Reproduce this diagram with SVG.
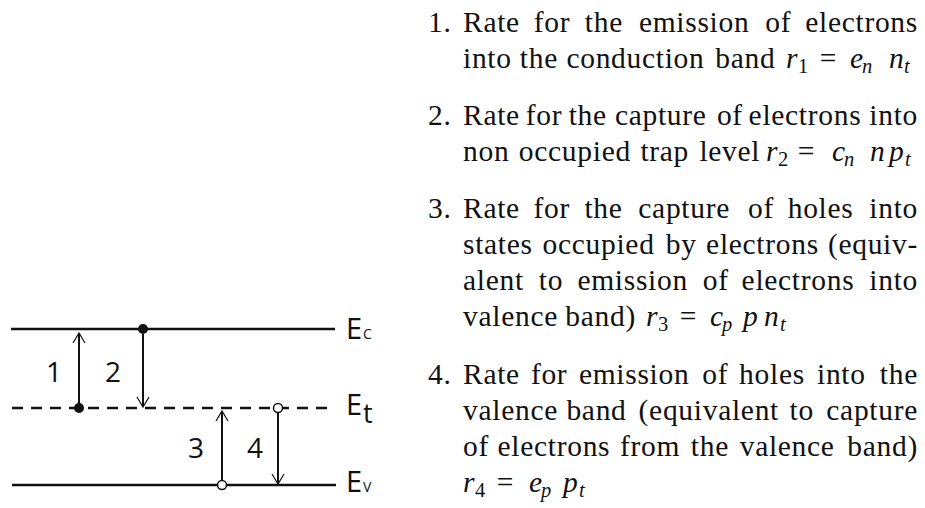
<svg xmlns="http://www.w3.org/2000/svg" width="925" height="508" viewBox="0 0 925 508">
<style>
.band{stroke:#111;stroke-width:2.6;fill:none}
.dash{stroke:#111;stroke-width:2.6;fill:none;stroke-dasharray:11 8}
.arr{stroke:#111;stroke-width:2;fill:none}
.head{stroke:#111;stroke-width:1.2;fill:none}
.lab{font-family:"Open Sans","Noto Sans",sans-serif;font-size:28px;fill:#111;text-anchor:middle}
.E{font-family:"Open Sans","Noto Sans",sans-serif;font-size:29px;fill:#111}
.Es{font-family:"Open Sans","Noto Sans",sans-serif;font-size:14px;fill:#111}
.Et{font-family:"Open Sans","Noto Sans",sans-serif;font-size:27px;fill:#111}
.t{font-family:"Liberation Serif","Times New Roman",serif;font-size:29.5px;letter-spacing:0.7px;fill:#111}
.r{text-anchor:end}
.mi{font-family:"Liberation Serif","Times New Roman",serif;font-size:29.5px;font-style:italic;fill:#111}
.ms{font-family:"Liberation Serif","Times New Roman",serif;font-size:20.5px;font-style:italic;fill:#111}
.md{font-family:"Liberation Serif","Times New Roman",serif;font-size:20.5px;fill:#111}
.eq{font-family:"Liberation Serif","Times New Roman",serif;font-size:29.5px;fill:#111;text-anchor:middle}
</style>
<defs>
<polyline id="up" points="-6,10 0,0 6,10" class="head"/>
<polyline id="down" points="-6,-10 0,0 6,-10" class="head"/>
</defs>
<g id="bands">
<g id="Ec"><line class="band" x1="11" y1="329" x2="335" y2="329"/><text class="E" x="346" y="339">E</text><text class="Es" x="363" y="339">C</text></g>
<g id="Et"><line class="dash" x1="12" y1="408" x2="334" y2="408"/><text class="E" x="346" y="415">E</text><text class="Et" x="363" y="423">t</text></g>
<g id="Ev"><line class="band" x1="12" y1="485" x2="336" y2="485"/><text class="E" x="346" y="492">E</text><text class="Es" x="363" y="492">V</text></g>
</g>
<g id="connectors">
<g id="t1"><line class="arr" x1="79" y1="408" x2="79" y2="334"/><use href="#up" x="79" y="333"/><text class="lab" x="54" y="382">1</text></g>
<g id="t2"><line class="arr" x1="143" y1="334" x2="143" y2="406"/><use href="#down" x="143" y="407"/><text class="lab" x="113" y="382">2</text></g>
<g id="t3"><line class="arr" x1="222" y1="481" x2="222" y2="412"/><use href="#up" x="222" y="411"/><text class="lab" x="196" y="458">3</text></g>
<g id="t4"><line class="arr" x1="278" y1="412" x2="278" y2="483"/><use href="#down" x="278" y="484"/><text class="lab" x="255" y="458">4</text></g>
</g>
<g id="states">
<circle cx="79" cy="408" r="5" fill="#111"/>
<circle cx="143" cy="329" r="5" fill="#111"/>
<circle cx="278" cy="408" r="4.5" fill="#fff" stroke="#111" stroke-width="1.5"/>
<circle cx="222" cy="485" r="4.5" fill="#fff" stroke="#111" stroke-width="1.5"/>
</g>
<g id="list">
<g id="item1">
<text class="t" x="428" y="32">1.</text>
<text class="t" y="32"><tspan x="463">Rate</tspan><tspan x="533.8">for</tspan><tspan x="584.8">the</tspan><tspan x="638.9">emission</tspan><tspan x="765.2">of</tspan></text>
<text class="t r" x="918" y="32">electrons</text>
<text class="t" y="68"><tspan x="463">into</tspan><tspan x="519.8">the</tspan><tspan x="566.4">conduction</tspan><tspan x="715.3">band</tspan></text>
<text class="mi" x="786" y="68">r</text><text class="md" x="798" y="73">1</text>
<text class="eq" x="828" y="68">=</text>
<text class="mi" x="850" y="68">e</text><text class="ms" x="862" y="73">n</text>
<text class="mi" x="889" y="68">n</text><text class="ms" x="904" y="73">t</text>
</g>
<g id="item2">
<text class="t" x="428" y="125">2.</text>
<text class="t" y="125"><tspan x="463">Rate</tspan><tspan x="525.8">for</tspan><tspan x="568.7">the</tspan><tspan x="614.9">capture</tspan><tspan x="716.9">of</tspan><tspan x="748.6">electrons</tspan></text>
<text class="t r" x="918" y="125">into</text>
<text class="t" y="161"><tspan x="463">non</tspan><tspan x="518.8">occupied</tspan><tspan x="640.4">trap</tspan><tspan x="699.4">level</tspan></text>
<text class="mi" x="766" y="161">r</text><text class="md" x="778" y="166">2</text>
<text class="eq" x="806" y="161">=</text>
<text class="mi" x="832" y="161">c</text><text class="ms" x="844" y="166">n</text>
<text class="mi" x="870" y="161">n</text>
<text class="mi" x="889" y="161">p</text><text class="ms" x="905" y="166">t</text>
</g>
<g id="item3">
<text class="t" x="428" y="218">3.</text>
<text class="t" y="218"><tspan x="463">Rate</tspan><tspan x="533.6">for</tspan><tspan x="584.4">the</tspan><tspan x="638.3">capture</tspan><tspan x="748.1">of</tspan><tspan x="787.7">holes</tspan></text>
<text class="t r" x="918" y="218">into</text>
<text class="t" y="254"><tspan x="463">states</tspan><tspan x="542.5">occupied</tspan><tspan x="665.7">by</tspan><tspan x="706.1">electrons</tspan></text>
<text class="t r" x="918" y="254">(equiv-</text>
<text class="t" y="290"><tspan x="463">alent</tspan><tspan x="538.8">to</tspan><tspan x="577.4">emission</tspan><tspan x="702.8">of</tspan><tspan x="741.6">electrons</tspan></text>
<text class="t r" x="918" y="290">into</text>
<text class="t" y="326"><tspan x="463">valence</tspan><tspan x="565.3">band)</tspan></text>
<text class="mi" x="646" y="326">r</text><text class="md" x="658" y="331">3</text>
<text class="eq" x="688" y="326">=</text>
<text class="mi" x="710" y="326">c</text><text class="ms" x="722" y="331">p</text>
<text class="mi" x="743" y="326">p</text>
<text class="mi" x="764" y="326">n</text><text class="ms" x="780" y="331">t</text>
</g>
<g id="item4">
<text class="t" x="428" y="384">4.</text>
<text class="t" y="384"><tspan x="463">Rate</tspan><tspan x="530.9">for</tspan><tspan x="578.9">emission</tspan><tspan x="702.3">of</tspan><tspan x="739.1">holes</tspan><tspan x="817">into</tspan></text>
<text class="t r" x="918" y="384">the</text>
<text class="t" y="420"><tspan x="463">valence</tspan><tspan x="566.4">band</tspan><tspan x="638.6">(equivalent</tspan><tspan x="789.6">to</tspan></text>
<text class="t r" x="918" y="420">capture</text>
<text class="t" y="456"><tspan x="463">of</tspan><tspan x="497.5">electrons</tspan><tspan x="619.9">from</tspan><tspan x="690.8">the</tspan><tspan x="739.7">valence</tspan></text>
<text class="t r" x="918" y="456">band)</text>
<text class="mi" x="463" y="492">r</text><text class="md" x="475" y="497">4</text>
<text class="eq" x="505" y="492">=</text>
<text class="mi" x="529" y="492">e</text><text class="ms" x="541" y="497">p</text>
<text class="mi" x="563" y="492">p</text><text class="ms" x="579" y="497">t</text>
</g>
</g>
</svg>
